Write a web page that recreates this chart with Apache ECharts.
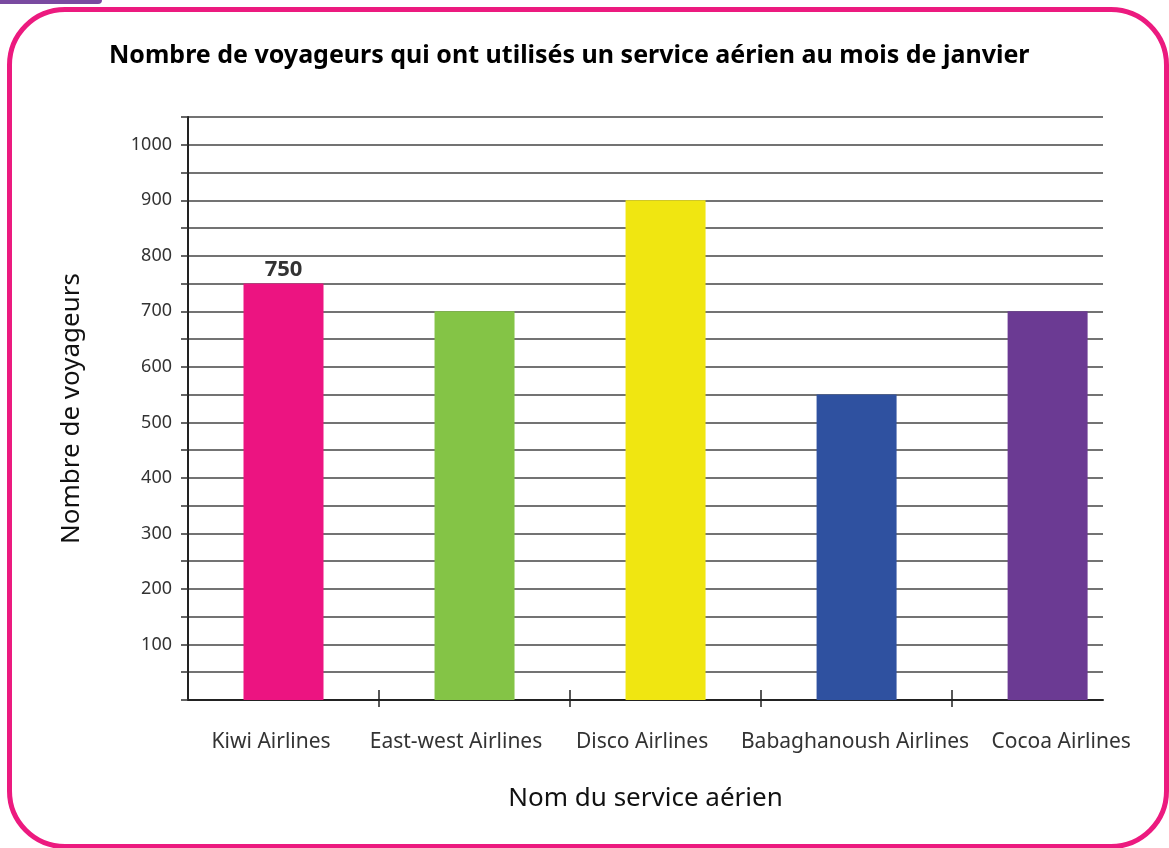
<!DOCTYPE html>
<html>
<head>
<meta charset="utf-8">
<script src="https://cdn.jsdelivr.net/npm/echarts@6/dist/echarts.min.js"></script>
<style>
  html, body { margin: 0; padding: 0; background: #fff; }
  #wrap { position: relative; width: 1169px; height: 848px; overflow: hidden; }
  #myChart { position: absolute; left: 0; top: 0; width: 1169px; height: 848px; }
  /* cadre rose arrondi */
  .cadre { position: absolute; left: 7px; top: 7px; width: 1152px; height: 832px;
           border: 5px solid #ec1a7f; border-radius: 58px; pointer-events: none; }
  .onglet { position: absolute; left: 0; top: 0; width: 102px; height: 4px;
            background: #7a4aa0; border-radius: 0 0 6px 0; }
</style>
</head>
<body>
<div id="wrap">
  <div id="myChart"></div>
  <div class="onglet"></div>
  <div class="cadre"></div>
</div>
<script>
  // données
  var categories = ['Kiwi Airlines', 'East-west Airlines', 'Disco Airlines', 'Babaghanoush Airlines', 'Cocoa Airlines'];
  var values = [750, 700, 900, 550, 700];
  var colors = ['#ec1481', '#84c446', '#f0e611', '#2f51a0', '#6b3a93'];
  var labelledBars = [0]; // seule la barre Kiwi porte sa valeur

  // graduations entre les barres, et place des noms (un peu décalés dans l'original)
  var tickPos = [1, 2, 3, 4];
  var labelPos = [0.435, 1.403, 2.377, 3.492, 4.571];

  var myChart = echarts.init(document.getElementById('myChart'));

  var barData = values.map(function (v, i) {
    return {
      value: [i + 0.5, v],
      itemStyle: { color: colors[i] },
      label: { show: labelledBars.indexOf(i) !== -1 }
    };
  });

  myChart.setOption({
    animation: false,
    title: {
      text: 'Nombre de voyageurs qui ont utilisés un service aérien au mois de janvier',
      left: 104,
      top: 38,
      textStyle: { fontFamily: 'Noto Sans', fontWeight: 'bold', fontSize: 25, color: '#000' }
    },
    grid: { left: 188, right: 66, top: 117, bottom: 148 },
    xAxis: [{
      type: 'value',
      min: 0,
      max: 4.79,
      name: 'Nom du service aérien',
      nameLocation: 'middle',
      nameGap: 86,
      nameTextStyle: { fontFamily: 'Noto Sans', fontSize: 26, color: '#111' },
      axisLine: { show: true, lineStyle: { color: '#222', width: 2 } },
      axisTick: { show: true, customValues: tickPos, length: 7, lineStyle: { color: '#222', width: 1.5 } },
      axisLabel: {
        customValues: labelPos,
        margin: 32,
        fontFamily: 'Noto Sans',
        fontSize: 21,
        color: '#333',
        formatter: function (v) {
          return categories[labelPos.indexOf(v)] || categories[Math.round(v - 0.5)];
        }
      },
      splitLine: { show: false }
    }, {
      type: 'value',
      min: 0,
      max: 4.79,
      position: 'bottom',
      axisLine: { show: false },
      axisTick: { show: true, inside: true, customValues: tickPos, length: 10, lineStyle: { color: '#222', width: 1.5 } },
      axisLabel: { show: false },
      splitLine: { show: false }
    }],
    yAxis: {
      type: 'value',
      min: 0,
      max: 1050,
      interval: 50,
      name: 'Nombre de voyageurs',
      nameLocation: 'middle',
      nameGap: 103,
      nameTextStyle: { fontFamily: 'Noto Sans', fontSize: 26, color: '#111' },
      axisLine: { show: true, lineStyle: { color: '#222', width: 2 } },
      axisTick: { show: true, length: 7, lineStyle: { color: '#333', width: 1.5 } },
      axisLabel: {
        margin: 16,
        fontFamily: 'Noto Sans',
        fontSize: 18,
        color: '#333',
        formatter: function (v) { return (v > 0 && v % 100 === 0) ? v : ''; }
      },
      splitLine: { show: true, lineStyle: { color: '#444', width: 1.5 } }
    },
    series: [{
      type: 'bar',
      barWidth: 80,
      data: barData,
      label: {
        position: 'top',
        distance: 3,
        fontFamily: 'Open Sans',
        fontWeight: 'bold',
        fontSize: 22,
        color: '#333',
        formatter: function (p) { return p.value[1]; }
      }
    }]
  });
</script>
</body>
</html>
